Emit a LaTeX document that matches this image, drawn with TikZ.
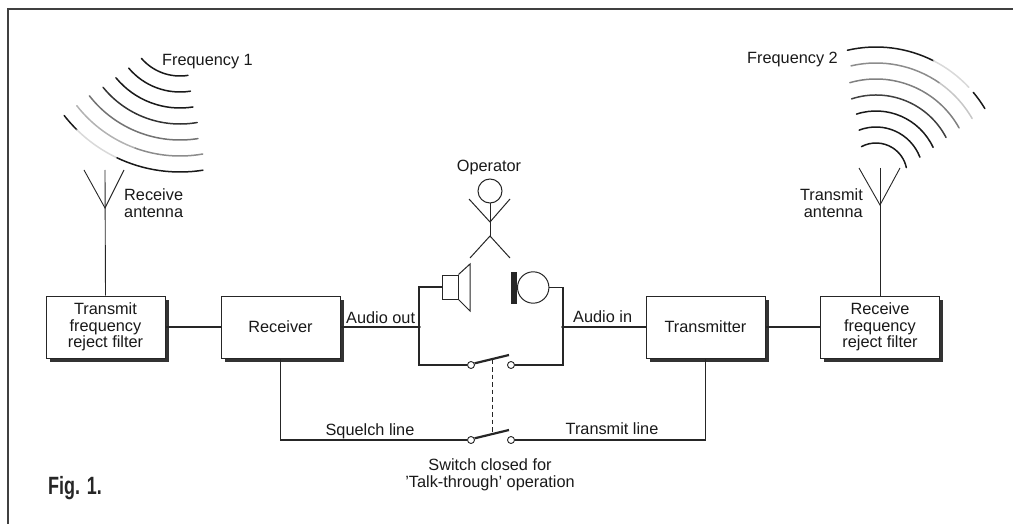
\documentclass[tikz,border=0pt]{standalone}
\usepackage{fontspec}
\usepackage{graphicx}
\setmainfont{Liberation Sans}
\usetikzlibrary{shadows}
\begin{document}
\begin{tikzpicture}[x=1pt,y=1pt,
  ink/.style={black!88},
  txt/.style={font=\fontsize{16.3}{17.5}\selectfont, inner sep=0pt, text=black!90},
  block/.style={draw=black!85, line width=1pt, fill=white, minimum width=119pt,
    minimum height=62pt, inner sep=0pt, align=center, text=black!90,
    font=\fontsize{16.3}{16.7}\selectfont,
    drop shadow={shadow xshift=3.5pt, shadow yshift=-3.5pt, opacity=1, fill=black!80}},
  wire/.style={draw=black!85, line width=1.1pt},
  limb/.style={draw=black!85, line width=1pt},
  wave/.style={line width=1.5pt, line cap=round},
  contact/.style={circle, draw=black!85, line width=0.9pt, fill=white,
    minimum size=7pt, inner sep=0pt},
  blade/.style={draw=black!85, line width=2.2pt},
  junction/.style={circle, fill=black!85, minimum size=3.8pt, inner sep=0pt},
  frame/.style={draw=black!75, line width=1.4pt},
]
\useasboundingbox (0,0) rectangle (1013,-524);

% outer frame (top and left edges only)
\draw[frame] (8,-524) -- (8,-9) -- (1013,-9);

% ---------------- blocks ----------------
\node[block] (tf) at (105.5,-327) {Transmit\\frequency\\reject filter};
\node[block] (rx) at (280.5,-327) {Receiver};
\node[block] (tx) at (705.5,-327) {Transmitter};
\node[block] (rf) at (880,-327) {Receive\\frequency\\reject filter};

% ---------------- antennas ----------------
\coordinate (aL) at (105,-170);
\coordinate (aLj) at (105,-208);
\coordinate (aR) at (880,-168);
\coordinate (aRj) at (880,-205);
\draw[wire, line width=0.9pt] (aL) -- (tf.north);
\draw[wire, line width=0.9pt] (84,-170) -- (aLj) -- (124,-170);
\draw[wire, line width=0.9pt] (aR) -- (rf.north);
\draw[wire, line width=0.9pt] (859,-168) -- (aRj) -- (900,-168);

\node[txt, anchor=north west, align=left] (rxant) at (124,-188) {Receive\\antenna};
\node[txt, anchor=north east, align=right] (txant) at (863,-188) {Transmit\\antenna};

% ---------------- radiated waves, frequency 1 ----------------
\begin{scope}[shift={(180,-25)}]
  \draw[wave, black!90] (221:51) arc (221:279:51);
  \draw[wave, black!90] (220:67) arc (220:279:67);
  \draw[wave, black!90] (219.5:83) arc (219.5:279:83);
  \draw[wave, black!80] (219:99) arc (219:280:99);
  \draw[wave, black!55] (218:115) arc (218:279:115);
  \draw[wave, black!30] (218:131) arc (218:250:131);
  \draw[wave, black!45] (250:131) arc (250:280:131);
  \draw[wave, black!90] (218:147) arc (218:225.5:147);
  \draw[wave, black!15] (225.5:147) arc (225.5:244.6:147);
  \draw[wave, black!90] (244.6:147) arc (244.6:279:147);
\end{scope}
\node[txt, anchor=base west] (f1) at (162,-65.5) {Frequency 1};

% ---------------- radiated waves, frequency 2 ----------------
\begin{scope}[shift={(876,-174)}]
  \draw[wave, black!90] (103:127) arc (103:63:127);
  \draw[wave, black!15] (63:127) arc (63:43:127);
  \draw[wave, black!90] (40:127) arc (40:31:127);
  \draw[wave, black!45] (103:111) arc (103:55:111);
  \draw[wave, black!22] (55:111) arc (55:30:111);
  \draw[wave, black!50] (106:95) arc (106:29:95);
  \draw[wave, black!75] (108:79) arc (108:27.5:79);
  \draw[wave, black!90] (108:63) arc (108:25:63);
  \draw[wave, black!90] (111:47) arc (111:21:47);
  \draw[wave, black!90] (118:31) arc (118:12:31);
\end{scope}
\node[txt, anchor=base west] (f2) at (747,-64) {Frequency 2};

% ---------------- operator ----------------
\node[txt, anchor=base] (op) at (489,-172) {Operator};
\node[circle, draw=black!85, line width=1pt, minimum size=24pt, inner sep=0pt] (head) at (490,-191) {};
\coordinate (neck) at (490,-222);
\coordinate (hip) at (490,-236);
\draw[limb] (head.south) -- (hip);
\draw[limb] (469,-199) -- (neck) -- (510,-199);
\draw[limb] (470,-258) -- (hip) -- (510,-258);

% ---------------- loudspeaker ----------------
\node[draw=black!85, line width=1pt, minimum width=16pt, minimum height=24pt, inner sep=0pt] (spk) at (450,-287) {};
\draw[limb] (spk.north east) -- (470,-264) -- (470,-311) -- (spk.south east);

% ---------------- microphone ----------------
\node[fill=black!85, minimum width=6pt, minimum height=32pt, inner sep=0pt] (micbar) at (514,-287.5) {};
\node[circle, draw=black!85, line width=1pt, minimum size=31.4pt, inner sep=0pt] (mic) at (533.2,-287.5) {};

% ---------------- audio wiring ----------------
\coordinate (jout) at (419,-327);
\coordinate (jin) at (563,-327);
\node[contact] (s1l) at (471,-365) {};
\node[contact] (s1r) at (511,-365) {};
\node[contact] (s2l) at (471,-440) {};
\node[contact] (s2r) at (511,-440) {};

\draw[wire] (tf.east) -- (rx.west);
\draw[wire] (tx.east) -- (rf.west);
\draw[wire] (rx.east) -- (jout);
\draw[wire] (spk.west) -| (jout);
\draw[wire] (jout) |- (s1l.west);
\draw[wire] (mic.east) -| (jin);
\draw[wire] (jin) -- (tx.west);
\draw[wire] (jin) |- (s1r.east);
\draw[wire] (rx.south) |- (s2l.west);
\draw[wire] (s2r.east) -| (tx.south);

\node[junction] (dout) at (jout) {};
\node[junction] (din) at (jin) {};

% ---------------- ganged switch ----------------
\coordinate (b1) at (509,-355);
\coordinate (b2) at (509,-430);
\draw[blade] (s1l.25) -- (b1);
\draw[blade] (s2l.25) -- (b2);
\coordinate (lk1) at (492,-359.5);
\coordinate (lk2) at (492,-434.5);
\draw[wire, line width=1pt, dash pattern=on 4.5pt off 3pt] (lk1) -- (lk2);

\node[txt, anchor=base west] (aout) at (346,-323) {Audio out};
\node[txt, anchor=base west] (ain) at (573,-322.5) {Audio in};
\node[txt, anchor=base] (sq) at (370,-435) {Squelch line};
\node[txt, anchor=base] (tl) at (612,-434.5) {Transmit line};
\node[txt, anchor=north, align=center, font=\fontsize{16.3}{17}\selectfont] (cap) at (490,-458)
  {Switch closed for\\'Talk-through' operation};

\node[anchor=base west, inner sep=0pt, text=black!85] (fig) at (48,-494)
  {\fontsize{25}{25}\selectfont\bfseries\scalebox{0.72}[1]{Fig. 1.}};
\end{tikzpicture}
\end{document}
